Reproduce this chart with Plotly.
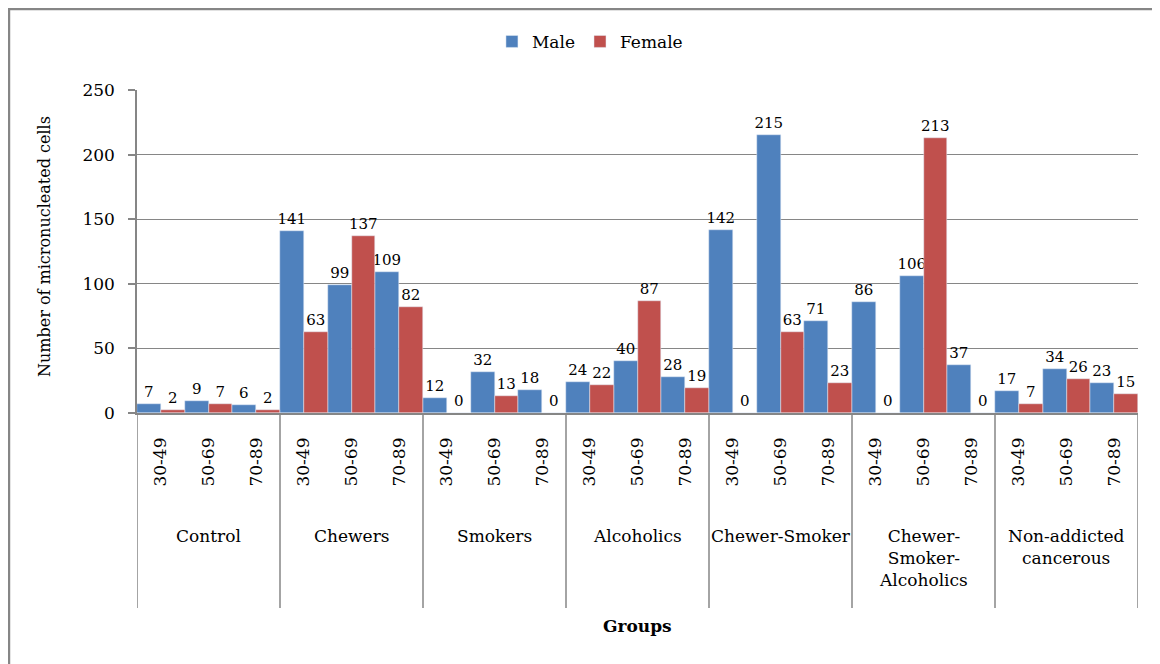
import plotly.graph_objects as go

groups = ["Control", "Chewers", "Smokers", "Alcoholics", "Chewer-Smoker",
          "Chewer-<br>Smoker-<br>Alcoholics", "Non-addicted<br>cancerous"]
ages = ["30-49", "50-69", "70-89"]
male = [7, 9, 6, 141, 99, 109, 12, 32, 18, 24, 40, 28, 142, 215, 71, 86, 106, 37, 17, 34, 23]
female = [2, 7, 2, 63, 137, 82, 0, 13, 0, 22, 87, 19, 0, 63, 23, 0, 213, 0, 7, 26, 15]

n_age = len(ages)
positions = list(range(len(groups) * n_age))
tick_text = [ages[i % n_age] for i in positions]

FONT = "DejaVu Serif"
GREY = "#868686"

fig = go.Figure()
fig.add_trace(go.Bar(x=positions, y=male, name="Male", marker_color="#4F81BD",
                     text=male, textposition="outside", cliponaxis=False,
                     textfont=dict(family=FONT, size=15, color="black")))
fig.add_trace(go.Bar(x=positions, y=female, name="Female", marker_color="#C0504D",
                     text=female, textposition="outside", cliponaxis=False,
                     textfont=dict(family=FONT, size=15, color="black")))

shapes = []
for g in range(len(groups) + 1):
    xb = g * n_age - 0.5
    shapes.append(dict(type="line", xref="x", yref="paper", x0=xb, x1=xb,
                       y0=0, y1=-0.604, line=dict(color=GREY, width=1.5)))
# outer border (left and top)
shapes.append(dict(type="line", xref="paper", yref="paper", x0=-0.1279, x1=-0.1279,
                   y0=1.251, y1=-0.8, line=dict(color=GREY, width=2.5)))
shapes.append(dict(type="line", xref="paper", yref="paper", x0=-0.1289, x1=1.03,
                   y0=1.251, y1=1.251, line=dict(color=GREY, width=2.5)))

annotations = []
for g, name in enumerate(groups):
    annotations.append(dict(x=g * n_age + 1, y=-0.344, xref="x", yref="paper",
                            text=name, showarrow=False, yanchor="top",
                            font=dict(family=FONT, size=17, color="black")))
annotations.append(dict(x=0.5, y=-0.659, xref="paper", yref="paper",
                        text="<b>Groups</b>", showarrow=False, yanchor="middle",
                        font=dict(family=FONT, size=17, color="black")))
annotations.append(dict(x=-0.0919, y=0.514, xref="paper", yref="paper",
                        text="Number of micronucleated cells", showarrow=False,
                        textangle=-90, xanchor="center", yanchor="middle",
                        font=dict(family=FONT, size=16, color="black")))

fig.update_layout(
    width=1152, height=656,
    margin=dict(l=129, r=22, t=82, b=251),
    paper_bgcolor="white", plot_bgcolor="white",
    barmode="group", bargap=0, bargroupgap=0,
    uniformtext=dict(minsize=15, mode="show"),
    font=dict(family=FONT, size=17, color="black"),
    showlegend=True,
    legend=dict(orientation="h", x=0.4525, y=1.149, xanchor="center", yanchor="middle",
                font=dict(family=FONT, size=17, color="black"), itemwidth=30),
    xaxis=dict(range=[-0.5, len(positions) - 0.5], tickmode="array",
               tickvals=positions, ticktext=tick_text, tickangle=-90,
               ticks="outside", ticklen=16, tickcolor="rgba(0,0,0,0)",
               tickfont=dict(family=FONT, size=17, color="black"),
               showline=True, linecolor=GREY, linewidth=1.5,
               showgrid=False, zeroline=False),
    yaxis=dict(range=[0, 250], dtick=50, ticks="outside", ticklen=7, tickcolor=GREY,
               tickwidth=1.5, ticklabelstandoff=10,
               tickfont=dict(family=FONT, size=17, color="black"),
               showline=True, linecolor=GREY, linewidth=1.5,
               showgrid=True, gridcolor=GREY, gridwidth=1, zeroline=False),
    shapes=shapes, annotations=annotations,
)

fig.write_html("out.html")
